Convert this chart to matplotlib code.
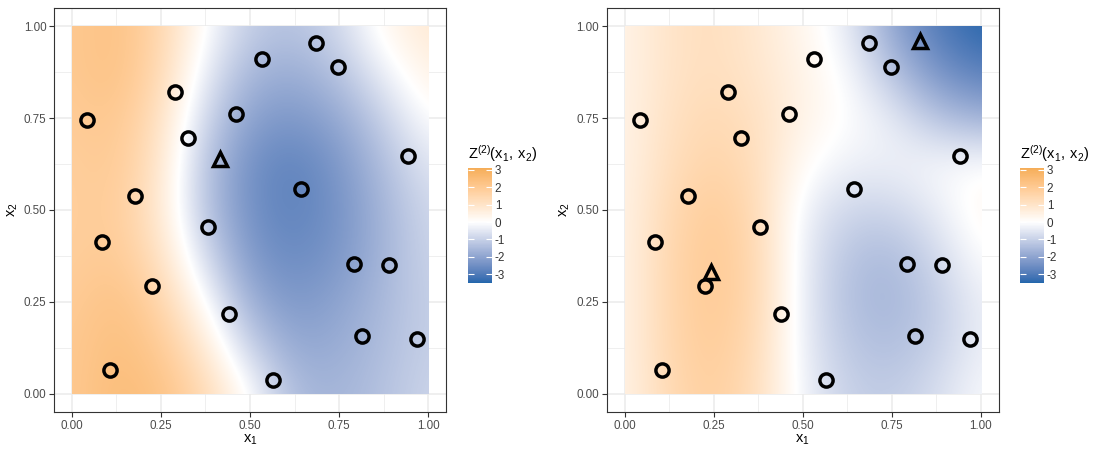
import numpy as np
import matplotlib
matplotlib.use("Agg")
import matplotlib.pyplot as plt
from matplotlib.colors import ListedColormap, Normalize, to_rgb
from matplotlib.patches import Rectangle

plt.rcParams['font.family'] = ['Liberation Sans', 'DejaVu Sans']

# observed sites (same in both panels)
pts_x1 = [0.044, 0.289, 0.327, 0.177, 0.086, 0.225, 0.106, 0.381, 0.462, 0.533,
          0.685, 0.747, 0.942, 0.644, 0.792, 0.890, 0.440, 0.814, 0.970, 0.564]
pts_x2 = [0.746, 0.821, 0.697, 0.539, 0.413, 0.293, 0.064, 0.454, 0.762, 0.912,
          0.954, 0.890, 0.648, 0.556, 0.353, 0.349, 0.216, 0.156, 0.150, 0.036]

# prediction sites (triangles)
tri_left_x1 = [0.416]
tri_left_x2 = [0.639]
tri_right_x1 = [0.830, 0.242]
tri_right_x2 = [0.959, 0.332]

# field values, rows y = 0 .. 1, columns x = 0 .. 1 (step 0.125)
grid_step = 0.125
z_left = [
    [2.0, 2.5, 2.3, 1.4, 0.0, -1.5, -1.6, -1.3, -0.9],
    [2.0, 2.4, 2.0, 0.8, -1.0, -1.9, -1.8, -1.4, -1.0],
    [1.9, 2.3, 1.6, 0.0, -1.8, -2.3, -2.0, -1.5, -1.0],
    [1.8, 2.0, 1.1, -0.8, -2.3, -2.6, -2.3, -1.6, -0.9],
    [1.8, 1.9, 0.8, -1.3, -2.5, -2.8, -2.4, -1.6, -0.8],
    [1.8, 2.0, 0.9, -1.3, -2.5, -2.8, -2.3, -1.4, -0.5],
    [1.9, 2.1, 1.1, -0.9, -2.1, -2.3, -1.9, -1.0, 0.05],
    [2.0, 2.3, 1.4, -0.4, -1.6, -1.8, -1.3, -0.3, 0.5],
    [2.0, 2.3, 1.5, 0.0, -1.1, -1.3, -0.8, 0.3, 0.8],
]
z_right = [
    [0.4, 1.4, 1.8, 1.2, -0.3, -1.0, -1.1, -0.7, -0.1],
    [0.4, 1.5, 1.9, 1.3, -0.4, -1.2, -1.4, -1.0, -0.3],
    [0.4, 1.5, 2.0, 1.4, -0.4, -1.4, -1.6, -1.1, -0.3],
    [0.4, 1.5, 2.0, 1.4, -0.4, -1.3, -1.5, -0.8, 0.0],
    [0.4, 1.4, 1.9, 1.3, -0.3, -0.9, -0.9, -0.4, 0.3],
    [0.4, 1.2, 1.6, 1.2, 0.1, -0.3, -0.3, -0.1, 0.0],
    [0.4, 1.1, 1.4, 1.1, 0.4, 0.0, -0.4, -1.3, -1.7],
    [0.4, 1.0, 1.2, 0.9, 0.4, -0.1, -1.3, -2.4, -2.9],
    [0.4, 1.0, 1.2, 0.8, 0.3, -0.4, -2.0, -3.0, -3.5],
]

z_min, z_max = -3.5, 3.1
ticks = [-3, -2, -1, 0, 1, 2, 3]
low_col, mid_col, high_col = '#2166AC', '#FFFFFF', '#F1A340'

WHITE = np.array([0.95047, 1.0, 1.08883])


def to_lab(c):
    rgb = np.array(to_rgb(c))
    lin = np.where(rgb <= 0.04045, rgb / 12.92, ((rgb + 0.055) / 1.055) ** 2.4)
    m = np.array([[0.4124, 0.3576, 0.1805], [0.2126, 0.7152, 0.0722], [0.0193, 0.1192, 0.9505]])
    xyz = m @ lin / WHITE
    f = np.where(xyz > 0.008856, np.cbrt(xyz), 7.787 * xyz + 16 / 116)
    return np.array([116 * f[1] - 16, 500 * (f[0] - f[1]), 200 * (f[1] - f[2])])


def lab_to_rgb(lab):
    fy = (lab[0] + 16) / 116
    f = np.array([fy + lab[1] / 500, fy, fy - lab[2] / 200])
    xyz = np.where(f ** 3 > 0.008856, f ** 3, (f - 16 / 116) / 7.787) * WHITE
    m_inv = np.array([[3.2406, -1.5372, -0.4986], [-0.9689, 1.8758, 0.0415], [0.0557, -0.2040, 1.0570]])
    lin = m_inv @ xyz
    rgb = np.where(lin <= 0.0031308, 12.92 * lin, 1.055 * np.clip(lin, 0, None) ** (1 / 2.4) - 0.055)
    return np.clip(rgb, 0, 1)


# ggplot-style gradient2: interpolate in Lab
lab_lo, lab_mid, lab_hi = to_lab(low_col), to_lab(mid_col), to_lab(high_col)
cols = []
for t in np.linspace(0, 1, 512):
    if t < 0.5:
        cols.append(lab_to_rgb(lab_lo + (lab_mid - lab_lo) * t * 2))
    else:
        cols.append(lab_to_rgb(lab_mid + (lab_hi - lab_mid) * (t - 0.5) * 2))
cmap = ListedColormap(cols)
lim = max(abs(z_min), abs(z_max))
norm = Normalize(-lim, lim)

fig = plt.figure(figsize=(11.04, 4.55), dpi=100)

panel_left = [54 / 1104, 606.7 / 1104]
cbar_left = [468 / 1104, 1020 / 1104]
fields = [z_left, z_right]
tris = [(tri_left_x1, tri_left_x2), (tri_right_x1, tri_right_x2)]

for k in range(2):
    ax = fig.add_axes([panel_left[k], 43 / 455, 392 / 1104, 404 / 455])
    ax.set_xticks([0, 0.25, 0.5, 0.75, 1.0])
    ax.set_yticks([0, 0.25, 0.5, 0.75, 1.0])
    ax.set_xticks([0.125, 0.375, 0.625, 0.875], minor=True)
    ax.set_yticks([0.125, 0.375, 0.625, 0.875], minor=True)
    ax.set_xticklabels(['0.00', '0.25', '0.50', '0.75', '1.00'])
    ax.set_yticklabels(['0.00', '0.25', '0.50', '0.75', '1.00'])
    ax.grid(which='major', color='#EBEBEB', linewidth=1.1, zorder=0)
    ax.grid(which='minor', color='#EBEBEB', linewidth=0.55, zorder=0)
    ax.set_axisbelow(True)
    ax.tick_params(which='major', length=3.5, width=0.8, color='#333333',
                   labelsize=8.4, labelcolor='#4D4D4D', pad=2)
    ax.tick_params(which='minor', length=0)
    for s in ax.spines.values():
        s.set_color('#333333')
        s.set_linewidth(0.8)

    h = grid_step
    n = len(fields[k])
    im = ax.imshow(np.array(fields[k]), origin='lower', cmap=cmap, norm=norm,
                   interpolation='bicubic', aspect='auto', zorder=1,
                   extent=(-h / 2, (n - 1) * h + h / 2, -h / 2, (n - 1) * h + h / 2))
    im.set_clip_path(Rectangle((0, 0), 1, 1, transform=ax.transData))
    ax.set_xlim(-0.05, 1.05)
    ax.set_ylim(-0.05, 1.05)

    ax.plot(pts_x1, pts_x2, linestyle='none', marker='o', markersize=9.5,
            markerfacecolor='none', markeredgecolor='black', markeredgewidth=2.5, zorder=3)
    ax.plot(tris[k][0], tris[k][1], linestyle='none', marker='^', markersize=10,
            markerfacecolor='none', markeredgecolor='black', markeredgewidth=2.5, zorder=3)

    ax.set_xlabel(r'$\mathregular{x_1}$', fontsize=10.5, labelpad=1)
    ax.set_ylabel(r'$\mathregular{x_2}$', fontsize=10.5, labelpad=3)

    cax = fig.add_axes([cbar_left[k], (455 - 283) / 455, 24 / 1104, 115 / 455])
    cb = fig.colorbar(im, cax=cax, boundaries=np.linspace(z_min, z_max, 200), ticks=ticks)
    cb.outline.set_visible(False)
    cax.tick_params(left=True, right=True, labelleft=False, labelright=True,
                    direction='in', color='white', length=4.5, width=0.8,
                    labelsize=8.4, labelcolor='#333333', pad=2)
    cax.set_yticklabels([str(t) for t in ticks])
    cax.set_title(r'$\mathregular{Z^{(2)}(x_1,\, x_2)}$', fontsize=10.5, loc='left', pad=7)

fig.savefig('out.png', dpi=100)
